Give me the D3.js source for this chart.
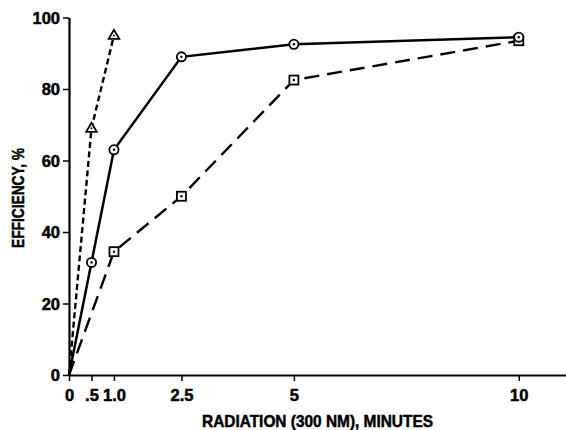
<!DOCTYPE html>
<html><head><meta charset="utf-8">
<script src="https://cdn.jsdelivr.net/npm/d3@7"></script>
<style>
html,body{margin:0;padding:0;background:#fff;}
svg{display:block;}
text{font-family:"Liberation Sans","Arial",sans-serif;font-weight:bold;fill:#000;stroke:#000;stroke-width:0.5px;}
</style></head>
<body>
<svg id="c" width="566" height="430"></svg>
<script>
const xTicks = [0, 0.5, 1.0, 2.5, 5, 10];
const xTickLabels = ["0", ".5", "1.0", "2.5", "5", "10"];
const yTicks = [0, 20, 40, 60, 80, 100];
const triTimes = [0, 0.5, 1.0];
const triEff = [0, 69, 95];
const circTimes = [0, 0.5, 1.0, 2.5, 5, 10];
const circEff = [0, 31.5, 63, 89, 92.5, 94.5];
const sqTimes = [0, 1.0, 2.5, 5, 10];
const sqEff = [0, 34.5, 50, 82.5, 93.5];

const svg = d3.select("#c");
const x = d3.scaleLinear().domain([0, 11.05]).range([69, 566]);
const y = d3.scaleLinear().domain([0, 100]).range([375, 17.5]);

const xAxis = d3.axisBottom(x).tickValues(xTicks).tickFormat((d,i)=>xTickLabels[i]).tickSize(6).tickSizeOuter(0).tickPadding(8);
const gx = svg.append("g").attr("transform", `translate(0,${y(0)})`).call(xAxis);
gx.select(".domain").attr("stroke-width", 2.2);
gx.selectAll(".tick line").attr("stroke-width", 1.5);
gx.selectAll(".tick text").attr("font-size", 16).attr("font-family","Liberation Sans").attr("font-weight","bold")
  .attr("transform","scale(0.92,1.08)").attr("x", d=>0);
gx.selectAll(".tick text").attr("transform", null).attr("font-size",16.5);

const yAxis = d3.axisLeft(y).tickValues(yTicks).tickSize(6).tickSizeOuter(0).tickPadding(3);
const gy = svg.append("g").attr("transform", `translate(${x(0)},0)`).call(yAxis);
gy.select(".domain").attr("stroke-width", 2.2);
gy.selectAll(".tick line").attr("stroke-width", 1.5);
gy.selectAll(".tick text").attr("font-size", 16.5).attr("font-family","Liberation Sans").attr("font-weight","bold").attr("dy","0.36em");

svg.append("text").attr("x", 202).attr("y", 427)
  .attr("font-size", 17).attr("textLength", 231).attr("lengthAdjust","spacingAndGlyphs")
  .style("font-family","Liberation Sans Narrow, Liberation Sans").text("RADIATION (300 NM), MINUTES");
svg.append("text").attr("transform","translate(24,248) rotate(-90)")
  .attr("font-size", 17).attr("textLength", 100).attr("lengthAdjust","spacingAndGlyphs")
  .style("font-family","Liberation Sans Narrow, Liberation Sans").text("EFFICIENCY, %");

const line = d3.line().x(d=>x(d[0])).y(d=>y(d[1]));
const zip = (a,b)=>a.map((v,i)=>[v,b[i]]);
const tri = zip(triTimes, triEff), circ = zip(circTimes, circEff), sq = zip(sqTimes, sqEff);

svg.append("path").datum(sq).attr("d", line).attr("fill","none").attr("stroke","#000")
  .attr("stroke-width", 2.4).attr("stroke-dasharray","15,8");
svg.append("path").datum(circ).attr("d", line).attr("fill","none").attr("stroke","#000")
  .attr("stroke-width", 2.5);
svg.append("path").datum(tri).attr("d", line).attr("fill","none").attr("stroke","#000")
  .attr("stroke-width", 2.4).attr("stroke-dasharray","6,3.5");

const sqM = sq.slice(1);
svg.selectAll(".sq").data(sqM).enter().append("rect")
  .attr("x", d=>x(d[0])-4.5).attr("y", d=>y(d[1])-4.5).attr("width",9).attr("height",9)
  .attr("fill","#fff").attr("stroke","#000").attr("stroke-width",1.8);
svg.selectAll(".sqd").data(sqM).enter().append("circle")
  .attr("cx", d=>x(d[0])).attr("cy", d=>y(d[1])).attr("r",1.2).attr("fill","#000");

const cM = circ.slice(1);
svg.selectAll(".ci").data(cM).enter().append("circle")
  .attr("cx", d=>x(d[0])).attr("cy", d=>y(d[1])).attr("r",4.6)
  .attr("fill","#fff").attr("stroke","#000").attr("stroke-width",1.8);
svg.selectAll(".cid").data(cM).enter().append("circle")
  .attr("cx", d=>x(d[0])).attr("cy", d=>y(d[1])).attr("r",1.2).attr("fill","#000");

const tM = tri.slice(1);
svg.selectAll(".tr").data(tM).enter().append("path")
  .attr("d", d=>{const cx=x(d[0]), cy=y(d[1]); return `M${cx},${cy-5.5}L${cx+5.3},${cy+3.5}L${cx-5.3},${cy+3.5}Z`;})
  .attr("fill","#fff").attr("stroke","#000").attr("stroke-width",1.8);
svg.selectAll(".trd").data(tM).enter().append("circle")
  .attr("cx", d=>x(d[0])).attr("cy", d=>y(d[1])).attr("r",1).attr("fill","#000");
</script>
</body></html>
